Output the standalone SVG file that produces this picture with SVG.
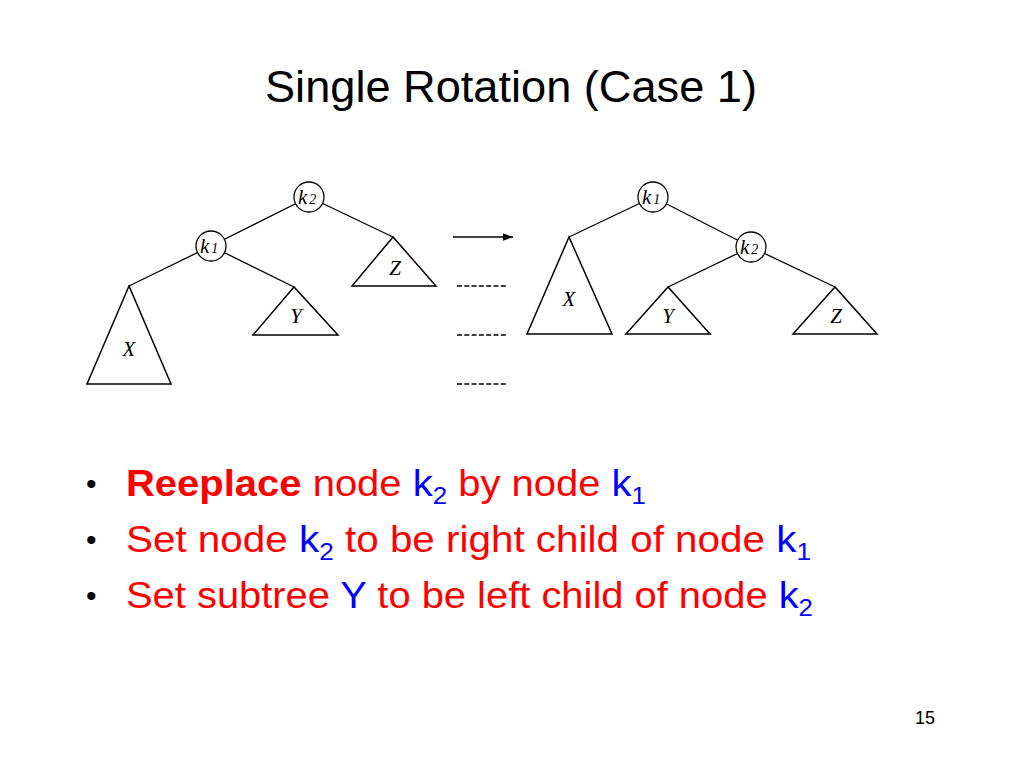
<svg xmlns="http://www.w3.org/2000/svg" width="1024" height="768" viewBox="0 0 1024 768">
<style>
.e{stroke:#000;stroke-width:1.3;fill:none}
.n{stroke:#000;stroke-width:1.3;fill:#fff}
.t{fill:#fff;stroke:#000;stroke-width:1.5}
.m{font-family:"Liberation Serif",serif;font-style:italic;font-size:21px;fill:#000}
.s{font-size:14px}
.b{font-family:"Liberation Sans",Arial,sans-serif;font-size:37px;fill:#f00}
.k{fill:#00f}
</style>
<defs><marker id="a" markerWidth="8" markerHeight="6" refX="8" refY="3" orient="auto"><path d="M0,0L8,3L0,6z"/></marker></defs>
<rect width="1024" height="768" fill="#fff"/>
<text x="511" y="102" text-anchor="middle" font-family="Liberation Sans,Arial,sans-serif" font-size="44" textLength="492" lengthAdjust="spacingAndGlyphs">Single Rotation (Case 1)</text>
<g id="connectors">
<line class="e" x1="309" y1="197" x2="211" y2="246"/>
<line class="e" x1="309" y1="197" x2="393" y2="237"/>
<line class="e" x1="211" y1="246" x2="129" y2="286"/>
<line class="e" x1="211" y1="246" x2="294" y2="287"/>
<line class="e" x1="653" y1="197" x2="569" y2="237"/>
<line class="e" x1="653" y1="197" x2="751" y2="247"/>
<line class="e" x1="751" y1="247" x2="668" y2="287"/>
<line class="e" x1="751" y1="247" x2="835" y2="287"/>
<line class="e" x1="453" y1="237" x2="513" y2="237" marker-end="url(#a)"/>
<line class="e" x1="457" y1="286" x2="507" y2="286" stroke-dasharray="5,2.3"/>
<line class="e" x1="457" y1="335" x2="507" y2="335" stroke-dasharray="5,2.3"/>
<line class="e" x1="457" y1="384" x2="507" y2="384" stroke-dasharray="5,2.3"/>
</g>
<g id="L-k2"><circle class="n" cx="309" cy="197" r="15"/><text class="m" x="298" y="204">k<tspan class="s" dx="2">2</tspan></text></g>
<g id="L-k1"><circle class="n" cx="211" cy="246" r="15"/><text class="m" x="200" y="253">k<tspan class="s" dx="2">1</tspan></text></g>
<g id="L-X"><polygon class="t" points="129,286 87,384 171,384"/><text class="m" x="129" y="356" text-anchor="middle">X</text></g>
<g id="L-Y"><polygon class="t" points="294,287 253,335 338,335"/><text class="m" x="296" y="323" text-anchor="middle">Y</text></g>
<g id="L-Z"><polygon class="t" points="393,237 352,286 436,286"/><text class="m" x="395" y="275" text-anchor="middle">Z</text></g>
<g id="R-k1"><circle class="n" cx="653" cy="197" r="15"/><text class="m" x="642" y="204">k<tspan class="s" dx="2">1</tspan></text></g>
<g id="R-k2"><circle class="n" cx="751" cy="247" r="15"/><text class="m" x="740" y="254">k<tspan class="s" dx="2">2</tspan></text></g>
<g id="R-X"><polygon class="t" points="569,237 527,334 612,334"/><text class="m" x="569" y="306" text-anchor="middle">X</text></g>
<g id="R-Y"><polygon class="t" points="668,287 626,334 710,334"/><text class="m" x="668" y="323" text-anchor="middle">Y</text></g>
<g id="R-Z"><polygon class="t" points="835,287 793,334 877,334"/><text class="m" x="836" y="323" text-anchor="middle">Z</text></g>
<g font-family="Liberation Sans,Arial,sans-serif" font-size="30">
<text x="86" y="494">•</text><text x="86" y="550">•</text><text x="86" y="606">•</text>
</g>
<text class="b" x="126" y="496" textLength="520" lengthAdjust="spacingAndGlyphs"><tspan font-weight="bold">Reeplace</tspan> node <tspan class="k">k<tspan font-size="24" dy="8">2</tspan></tspan><tspan dy="-8"> by node </tspan><tspan class="k">k<tspan font-size="24" dy="8">1</tspan></tspan></text>
<text class="b" x="126" y="552" textLength="685" lengthAdjust="spacingAndGlyphs">Set node <tspan class="k">k<tspan font-size="24" dy="8">2</tspan></tspan><tspan dy="-8"> to be right child of node </tspan><tspan class="k">k<tspan font-size="24" dy="8">1</tspan></tspan></text>
<text class="b" x="126" y="608" textLength="687" lengthAdjust="spacingAndGlyphs">Set subtree <tspan class="k">Y</tspan> to be left child of node <tspan class="k">k<tspan font-size="24" dy="8">2</tspan></tspan></text>
<text x="925" y="724" text-anchor="middle" font-family="Liberation Sans,Arial,sans-serif" font-size="18">15</text>
</svg>
